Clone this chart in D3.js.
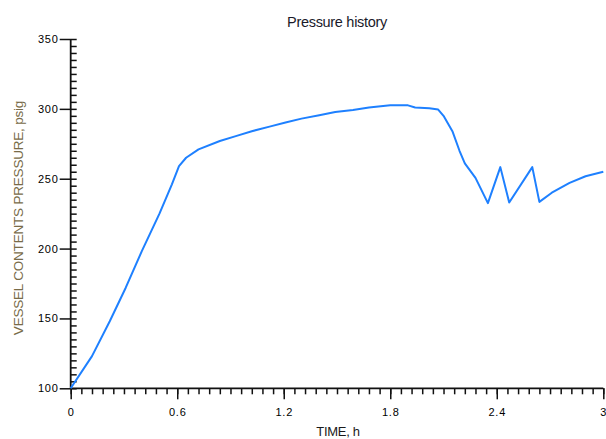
<!DOCTYPE html>
<html>
<head>
<meta charset="utf-8">
<script src="https://cdn.jsdelivr.net/npm/d3@7/dist/d3.min.js"></script>
<style>
  html, body { margin: 0; padding: 0; background: #fff; }
  svg { display: block; }
  text { font-family: "Liberation Sans", Arial, sans-serif; }
</style>
</head>
<body>
<svg id="chart" width="606" height="439"></svg>
<script>
// Vessel pressure over time
const timeH = [0, 0.12, 0.22, 0.31, 0.40, 0.50, 0.57, 0.61, 0.65, 0.72, 0.84, 0.93, 1.02, 1.12, 1.21, 1.30,
  1.40, 1.49, 1.59, 1.68, 1.80, 1.90, 1.94, 2.02, 2.07, 2.10, 2.15, 2.19, 2.22, 2.28, 2.35, 2.42, 2.47,
  2.60, 2.64, 2.71, 2.81, 2.90, 3.00];
const pressurePsig = [100, 123, 148, 172, 198, 225, 246, 259, 265, 271, 277, 280.5, 284, 287.3, 290.2, 293,
  295.4, 297.8, 299.2, 300.9, 302.5, 302.5, 301, 300.4, 299.5, 295, 284, 270, 261, 250.6, 232.5, 258.3, 233,
  258.3, 233.4, 240, 247, 251.8, 255];
const xTickValues = [0, 0.6, 1.2, 1.8, 2.4, 3];
const yTickValues = [100, 150, 200, 250, 300, 350];

const titleText = "Pressure history";
const xTitle = "TIME, h";
const yTitle = "VESSEL CONTENTS PRESSURE, psig";

const svg = d3.select("#chart");
const plotLeft = 70.7, plotRight = 603.3, plotTop = 39, plotBottom = 388.3;

const x = d3.scaleLinear().domain([0, 3]).range([plotLeft, plotRight]);
const y = d3.scaleLinear().domain([100, 350]).range([plotBottom, plotTop]);

const axisColor = "#111";

// minor ticks: x every 0.06 (pointing down), y every 5 (pointing into the plot)
const xMinor = d3.range(0, 3.0001, 0.06);
const yMinor = d3.range(100, 350.0001, 5);

const gx = svg.append("g").attr("transform", `translate(0,${plotBottom})`);
gx.call(d3.axisBottom(x).tickValues(xMinor).tickSize(6).tickFormat(""))
  .call(g => g.select(".domain").remove());
gx.selectAll("line").attr("stroke", axisColor).attr("stroke-width", 1.5);

const gxMajor = svg.append("g").attr("transform", `translate(0,${plotBottom})`);
gxMajor.call(d3.axisBottom(x).tickValues(xTickValues).tickSize(11).tickPadding(9)
    .tickFormat(d => String(+d.toFixed(1))))
  .call(g => g.select(".domain").remove());
gxMajor.selectAll("line").attr("stroke", axisColor).attr("stroke-width", 1.5);
gxMajor.selectAll("text").attr("fill", "#000").attr("font-size", 11).attr("letter-spacing", 0.8);

const gy = svg.append("g").attr("transform", `translate(${plotLeft},0)`);
gy.call(d3.axisRight(y).tickValues(yMinor).tickSize(6).tickFormat(""))
  .call(g => g.select(".domain").remove());
gy.selectAll("line").attr("stroke", axisColor).attr("stroke-width", 1.5);

const gyMajor = svg.append("g").attr("transform", `translate(${plotLeft},0)`);
gyMajor.call(d3.axisLeft(y).tickValues(yTickValues).tickSize(11).tickPadding(1))
  .call(g => g.select(".domain").remove());
gyMajor.selectAll("line").attr("stroke", axisColor).attr("stroke-width", 1.5);
gyMajor.selectAll("text").attr("fill", "#000").attr("font-size", 11).attr("letter-spacing", 0.8);

// axis lines
svg.append("line").attr("x1", plotLeft).attr("x2", plotLeft).attr("y1", plotTop).attr("y2", plotBottom)
  .attr("stroke", axisColor).attr("stroke-width", 1.8);
svg.append("line").attr("x1", plotLeft).attr("x2", plotRight).attr("y1", plotBottom).attr("y2", plotBottom)
  .attr("stroke", axisColor).attr("stroke-width", 1.8);

// pressure curve
const line = d3.line().x((d, i) => x(timeH[i])).y(d => y(d));
svg.append("path")
  .datum(pressurePsig)
  .attr("fill", "none")
  .attr("stroke", "#1e80ff")
  .attr("stroke-width", 2)
  .attr("stroke-linejoin", "round")
  .attr("d", line);

// titles
svg.append("text").attr("x", 337).attr("y", 27).attr("text-anchor", "middle")
  .attr("font-size", 14.5).attr("fill", "#1a1a2a").attr("letter-spacing", -0.3).text(titleText);
svg.append("text").attr("x", 338).attr("y", 436).attr("text-anchor", "middle")
  .attr("font-size", 13).attr("fill", "#1a1a1a").attr("letter-spacing", -0.3).text(xTitle);
svg.append("text").attr("transform", "translate(22.5,218) rotate(-90)").attr("text-anchor", "middle")
  .attr("font-size", 13.5).attr("fill", "#786b48").attr("letter-spacing", -0.2).text(yTitle);
</script>
</body>
</html>
